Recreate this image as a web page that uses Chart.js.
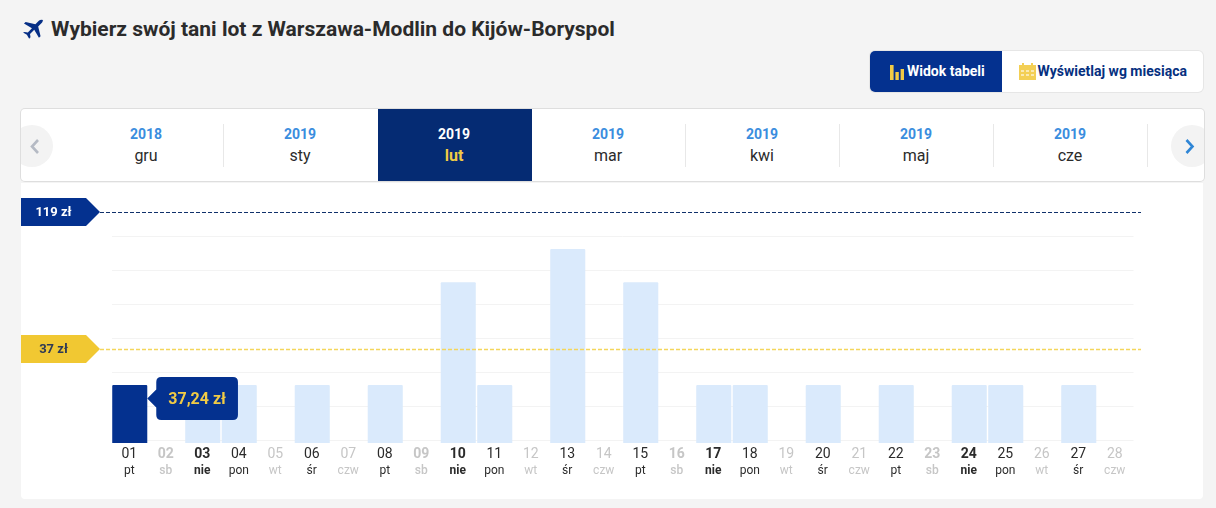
<!DOCTYPE html>
<html lang="pl">
<head>
<meta charset="utf-8">
<title>Wybierz swój tani lot</title>
<script src="https://cdn.jsdelivr.net/npm/chart.js@4"></script>
<style>
  html,body{margin:0;padding:0;width:1216px;height:508px;overflow:hidden;background:#f4f4f4;font-family:Roboto,sans-serif;color:#2b2b2b}
  .abs{position:absolute}
  h1{position:absolute;left:51px;top:17px;margin:0;font-size:21px;line-height:24px;font-weight:700;white-space:nowrap;color:#2b2b2b}
  #switch{left:870px;top:51px;width:333px;height:41px;background:#fff;border-radius:5px;box-shadow:0 0 0 1px #e6e6e6;overflow:hidden}
  #switch .on{position:absolute;left:0;top:0;width:132px;height:41px;background:#04318f}
  #switch span{position:absolute;top:0;line-height:41px;font-size:14px;font-weight:700;white-space:nowrap}
  #months{left:21px;top:109px;width:1183px;height:72px;background:#fff;border-radius:4px;box-shadow:0 0 0 1px #dedede;overflow:hidden}
  .cell{position:absolute;top:0;width:154px;height:72px;text-align:center}
  .cell.sep::after{content:"";position:absolute;right:0;top:15px;height:43px;width:1px;background:#e8e8e8}
  .cell b{position:absolute;left:-1px;right:1px;top:16px;line-height:18px;font-size:14px;font-weight:700;color:#3a8dde}
  .cell i{position:absolute;left:-1px;right:1px;top:37px;line-height:19px;font-size:16px;font-style:normal;color:#2b2b2b}
  .cell.active{background:#052b73}
  .cell.active b{color:#fff}
  .cell.active i{color:#f1cb45;font-weight:700}
  .nav{position:absolute;top:16px;width:42px;height:42px;border-radius:50%;background:#f3f3f3}
  #panel{left:21px;top:183px;width:1182px;height:316px;background:#fff;border-radius:0 0 4px 4px}
  #chartBox{left:0;top:0;width:1216px;height:508px}
</style>
</head>
<body>
<svg class="abs" style="left:21px;top:19px" width="24" height="23" viewBox="0 0 24 24"><path fill="#062f86" d="M22.6 1.4c-1.2-1.2-3.3-.7-4.5.5l-3.6 3.6L4.3 3 2.6 4.7l8.3 4.9-4.3 4.4-3.4-.5L1.6 14l4 2.4L8 20.6l1.4-1.6-.5-3.4 4.4-4.3 4.9 8.3 1.7-1.7-2.5-10.2 3.6-3.6c1.2-1.2 1.8-3.4.6-4.7z"/></svg>
<h1>Wybierz swój tani lot z Warszawa-Modlin do Kijów-Boryspol</h1>

<div id="switch" class="abs">
  <div class="on"></div>
  <svg class="abs" style="left:20px;top:14px" width="14" height="15" viewBox="0 0 14 15"><path fill="#f1cb45" d="M0 0h3.6v15H0zM5.4 7h3.4v8H5.4zM10.6 4H14v11h-3.4z"/></svg>
  <span style="left:37px;color:#fff">Widok tabeli</span>
  <svg class="abs" style="left:149px;top:12px" width="17" height="17" viewBox="0 0 17 17"><path fill="#f3cf55" d="M0 2h3V0h2v2h7V0h2v2h3v15H0z"/><path fill="#fff" opacity=".55" d="M2 7h3v2H2zM7 7h3v2H7zM12 7h3v2h-3zM2 11h3v2H2zM7 11h3v2H7zM12 11h3v2h-3z"/></svg>
  <span style="left:167.5px;color:#06307f">Wyświetlaj wg miesiąca</span>
</div>

<div id="months" class="abs"></div>
<div id="panel" class="abs"></div>
<div id="chartBox" class="abs"><canvas id="chart" width="1216" height="508"></canvas></div>

<script>
// Month picker
const monthYears = ['2018','2019','2019','2019','2019','2019','2019'];
const monthNames = ['gru','sty','lut','mar','kwi','maj','cze'];
const activeMonth = 2;

// Fares per day of February 2019; null marks a day without flights
const days = ['01','02','03','04','05','06','07','08','09','10','11','12','13','14',
              '15','16','17','18','19','20','21','22','23','24','25','26','27','28'];
const weekdays = ['pt','sb','nie','pon','wt','śr','czw','pt','sb','nie','pon','wt','śr','czw',
                  'pt','sb','nie','pon','wt','śr','czw','pt','sb','nie','pon','wt','śr','czw'];
const fares = [37.24,null,37.24,37.24,null,37.24,null,37.24,null,99,37.24,null,119,null,
               99,null,37.24,37.24,null,37.24,null,37.24,null,37.24,37.24,null,37.24,null];
const selectedDay = 0;

// Highest and lowest fare markers
const markerValues = [119, 37];
const markerLabels = ['119 zł', '37 zł'];
const markerFills = ['#04318f', '#f1c832'];
const markerText = ['#ffffff', '#2f3a55'];
const markerLines = ['#10316b', '#f4d65c'];
const markerLineWidths = [1, 1.3];

const monthsEl = document.getElementById('months');
monthNames.forEach((name, i) => {
  const c = document.createElement('div');
  c.className = 'cell' + (i === activeMonth ? ' active' : '') +
                (i !== activeMonth && i + 1 !== activeMonth ? ' sep' : '');
  c.style.left = (49 + i * 154) + 'px';
  c.innerHTML = '<b>' + monthYears[i] + '</b><i>' + name + '</i>';
  monthsEl.appendChild(c);
});
monthsEl.insertAdjacentHTML('beforeend',
  '<div class="nav" style="left:-10px"><svg width="42" height="42"><path d="M27 15l-6 6.5 6 6.5" fill="none" stroke="#b5bac4" stroke-width="2.6"/></svg></div>' +
  '<div class="nav" style="left:1150px"><svg width="42" height="42"><path d="M15.5 15l6 6.5-6 6.5" fill="none" stroke="#2f86d6" stroke-width="2.6"/></svg></div>');

// Tooltip anchored to the right side of the selected bar
Chart.Tooltip.positioners.besideBar = function (items) {
  if (!items.length) return false;
  const el = items[0].element;
  return { x: el.x + el.width / 2, y: el.y + 13.5 };
};

// Draws the dashed fare lines and their arrow-shaped tags
const fareMarkers = {
  id: 'fareMarkers',
  afterDatasetsDraw(chart) {
    const { ctx } = chart;
    const y2 = chart.scales.y2;
    markerValues.forEach((v, i) => {
      const row = Math.floor(y2.getPixelForValue(v));
      const y = row + 0.5;
      ctx.save();
      ctx.strokeStyle = markerLines[i];
      ctx.lineWidth = markerLineWidths[i];
      ctx.setLineDash([4, 2]);
      ctx.beginPath(); ctx.moveTo(100, y); ctx.lineTo(1141, y); ctx.stroke();
      ctx.setLineDash([]);
      ctx.fillStyle = markerFills[i];
      ctx.beginPath();
      ctx.moveTo(21, row - 14); ctx.lineTo(86, row - 14); ctx.lineTo(100, row);
      ctx.lineTo(86, row + 14); ctx.lineTo(21, row + 14); ctx.closePath(); ctx.fill();
      ctx.fillStyle = markerText[i];
      ctx.font = '700 13px Roboto';
      ctx.textAlign = 'center';
      ctx.textBaseline = 'middle';
      ctx.fillText(markerLabels[i], 53.5, row + 0.5);
      ctx.restore();
    });
  }
};

const tickColor = (i) => fares[i] === null ? '#c6c6c6' : '#2b2b2b';
const dayWeight = (i) => (weekdays[i] === 'nie' || weekdays[i] === 'sb') ? 700 : 400;
const nameWeight = (i) => weekdays[i] === 'nie' ? 700 : weekdays[i] === 'sb' ? 500 : 400;

const chart = new Chart(document.getElementById('chart'), {
  type: 'bar',
  data: {
    labels: days,
    datasets: [{
      data: fares,
      xAxisID: 'x',
      yAxisID: 'y',
      backgroundColor: fares.map((_, i) => i === selectedDay ? '#04318f' : '#daeafc'),
      hoverBackgroundColor: fares.map((_, i) => i === selectedDay ? '#04318f' : '#daeafc'),
      barPercentage: 0.96,
      categoryPercentage: 1,
      borderRadius: 1,
      borderSkipped: 'bottom'
    }]
  },
  options: {
    responsive: false,
    animation: false,
    events: [],
    layout: { padding: { left: 111.5, right: 82.5, top: 205, bottom: 22 } },
    plugins: {
      legend: { display: false },
      title: { display: false },
      tooltip: {
        enabled: true,
        position: 'besideBar',
        xAlign: 'left',
        yAlign: 'center',
        backgroundColor: '#04318f',
        bodyColor: '#f1cb45',
        bodyFont: { family: 'Roboto', size: 16, weight: 700 },
        displayColors: false,
        padding: { left: 12, right: 12, top: 14, bottom: 10 },
        cornerRadius: 5,
        caretSize: 9,
        caretPadding: 0,
        callbacks: {
          title: () => '',
          label: (item) => item.raw.toFixed(2).replace('.', ',') + ' zł'
        }
      }
    },
    scales: {
      x: {
        position: 'bottom',
        offset: true,
        grid: { display: false, drawTicks: false },
        border: { display: false },
        afterFit(s) { s.height = 20; },
        ticks: {
          autoSkip: false, maxRotation: 0, padding: 3, labelOffset: -0.5,
          color: (c) => tickColor(c.index),
          font: (c) => ({ family: 'Roboto', size: 14, weight: dayWeight(c.index) })
        }
      },
      x2: {
        type: 'category',
        position: 'bottom',
        labels: weekdays,
        offset: true,
        grid: { display: false, drawTicks: false },
        border: { display: false },
        afterFit(s) { s.height = 23; },
        ticks: {
          autoSkip: false, maxRotation: 0, padding: 1, labelOffset: -0.5,
          color: (c) => tickColor(c.index),
          font: (c) => ({ family: 'Roboto', size: 12, weight: nameWeight(c.index) })
        }
      },
      y: {
        min: 2.37,
        max: 145.45,
        display: true,
        position: 'left',
        afterFit(s) { s.width = 0; },
        afterBuildTicks(s) {
          const first = 3.87, step = 20.44;
          s.ticks = [0, 1, 2, 3, 4, 5, 6].map((k) => ({ value: first + k * step }));
        },
        ticks: { display: false },
        border: { display: false },
        grid: { color: '#f3f3f3', lineWidth: 1, drawTicks: false }
      },
      y2: {
        min: -18.96,
        max: 123.49,
        display: false
      }
    }
  },
  plugins: [fareMarkers]
});

chart.tooltip.setActiveElements([{ datasetIndex: 0, index: selectedDay }], { x: 0, y: 0 });
chart.update();
</script>
</body>
</html>
